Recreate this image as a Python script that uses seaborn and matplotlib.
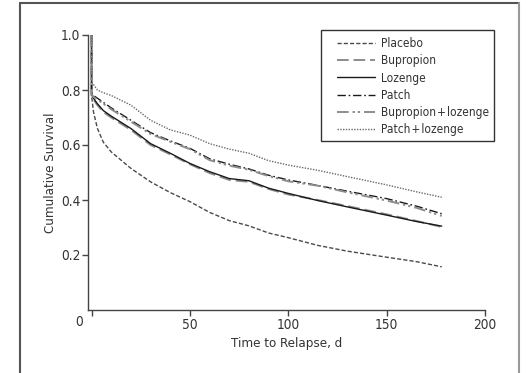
import matplotlib
matplotlib.use("Agg")
import matplotlib.pyplot as plt
from matplotlib import font_manager
from matplotlib.lines import Line2D
from matplotlib.patches import Rectangle
import seaborn as sns
import pandas as pd

# ---- data ----
DAYS = [0, 0, 1, 3, 6, 10, 20, 30, 40, 50, 60, 70, 80, 90, 100, 115, 130, 150, 165, 178]
placebo = [1.0, 0.78, 0.72, 0.66, 0.61, 0.575, 0.515, 0.466, 0.427, 0.394, 0.355, 0.325, 0.306, 0.280, 0.263, 0.235, 0.214, 0.192, 0.176, 0.157]
bupropion = [1.0, 0.775, 0.765, 0.745, 0.72, 0.70, 0.655, 0.600, 0.566, 0.530, 0.498, 0.473, 0.466, 0.440, 0.420, 0.400, 0.378, 0.348, 0.324, 0.302]
lozenge = [1.0, 0.785, 0.77, 0.75, 0.725, 0.705, 0.66, 0.605, 0.570, 0.533, 0.503, 0.478, 0.470, 0.443, 0.424, 0.398, 0.375, 0.345, 0.322, 0.305]
patch = [1.0, 0.79, 0.78, 0.77, 0.755, 0.735, 0.69, 0.645, 0.615, 0.588, 0.550, 0.530, 0.513, 0.490, 0.473, 0.453, 0.432, 0.405, 0.378, 0.350]
bup_loz = [1.0, 0.785, 0.775, 0.765, 0.75, 0.73, 0.685, 0.64, 0.612, 0.585, 0.545, 0.525, 0.510, 0.487, 0.468, 0.452, 0.428, 0.398, 0.372, 0.342]
patch_loz = [1.0, 0.83, 0.82, 0.80, 0.79, 0.78, 0.745, 0.69, 0.655, 0.636, 0.605, 0.585, 0.570, 0.543, 0.527, 0.508, 0.485, 0.455, 0.430, 0.410]

GROUPS = ["Placebo", "Bupropion", "Lozenge", "Patch", "Bupropion+lozenge", "Patch+lozenge"]
LABELS = ["Placebo", "Bupropion", "Lozenge", "Patch", "Bupropion\u200a+\u200alozenge", "Patch\u200a+\u200alozenge"]
SERIES = [placebo, bupropion, lozenge, patch, bup_loz, patch_loz]
X_TICKS = [0, 50, 100, 150, 200]
Y_TICKS = [0.2, 0.4, 0.6, 0.8, 1.0]

sns.set_theme(style="white")
fonts = font_manager.fontManager.ttflist
names = {f.name for f in fonts}
condensed = any(f.name == "DejaVu Sans" and str(f.stretch) in ("condensed", "semi-condensed", "500", "600") for f in fonts)
if "Liberation Sans Narrow" in names:
    fam = "Liberation Sans Narrow"
elif condensed:
    fam = "DejaVu Sans"
    plt.rcParams["font.stretch"] = "condensed"
else:
    fam = "Liberation Sans"
plt.rcParams["font.family"] = [fam, "DejaVu Sans"]

rows = []
for g, vals in zip(GROUPS, SERIES):
    for i, (d, v) in enumerate(zip(DAYS, vals)):
        rows.append({"group": g, "day": d, "surv": v, "order": i})
df = pd.DataFrame(rows)

colors = {"Placebo": "#4a4a4a", "Bupropion": "#8c8c8c", "Lozenge": "#1a1a1a",
          "Patch": "#1a1a1a", "Bupropion+lozenge": "#8c8c8c", "Patch+lozenge": "#6a6a6a"}
dashes = {"Placebo": (3, 1.5), "Bupropion": (6, 2.5), "Lozenge": "",
          "Patch": (6, 2, 1.2, 2), "Bupropion+lozenge": (6, 2, 1.2, 1.5, 1.2, 2),
          "Patch+lozenge": (1, 1)}
widths = {"Placebo": 1.0, "Bupropion": 1.4, "Lozenge": 1.0, "Patch": 1.0,
          "Bupropion+lozenge": 1.4, "Patch+lozenge": 1.0}

W, H = 526, 373
fig = plt.figure(figsize=(W / 100, H / 100), dpi=100)
ax = fig.add_axes([88 / W, 1 - 310 / H, (485 - 88) / W, (310 - 35) / H])

for g, lab in zip(GROUPS, LABELS):
    sub = df[df.group == g]
    sns.lineplot(data=sub, x="day", y="surv", ax=ax, sort=False, estimator=None,
                 color=colors[g], linewidth=widths[g], label=lab)
    ln = ax.lines[-1]
    if dashes[g]:
        ln.set_dashes(dashes[g])

TXT = "#333333"
ax.set_xlim(-1.8, 200)
ax.set_ylim(0, 1.0)
ax.set_xticks(X_TICKS)
ax.set_xticklabels([""] + [str(t) for t in X_TICKS[1:]])
ax.set_yticks(Y_TICKS)
ax.set_yticklabels([f"{t:.1f}" for t in Y_TICKS])
ax.tick_params(axis="both", direction="out", length=4, width=1, color="#444444",
               labelsize=9.8, labelcolor=TXT, left=True, bottom=True)
ax.tick_params(axis="x", pad=2)
ax.tick_params(axis="y", pad=1.5)
for s in ["top", "right"]:
    ax.spines[s].set_visible(False)
for s in ["left", "bottom"]:
    ax.spines[s].set_color("#444444")
    ax.spines[s].set_linewidth(1.0)
ax.set_xlabel("Time to Relapse, d", fontsize=9.5, color=TXT, labelpad=3)
ax.set_ylabel("Cumulative Survival", fontsize=9.5, color=TXT, labelpad=3)
fig.text(79 / W, 1 - 322 / H, "0", fontsize=9.8, color=TXT, ha="center", va="center")

# legend: frame drawn separately to match the reference box
box = Rectangle((321 / W, 1 - 141 / H), (494 - 321) / W, (141 - 30) / H,
                transform=fig.transFigure, fill=True, facecolor="white",
                edgecolor="#333333", linewidth=1.0, zorder=4.5, clip_on=False)
ax.add_artist(box)
leg = ax.legend(loc="upper left", bbox_to_anchor=(337 / W, 1 - 37 / H),
                bbox_transform=fig.transFigure, frameon=False, fontsize=8.6,
                handlelength=3.2, handletextpad=0.45, labelspacing=0.36,
                borderpad=0, borderaxespad=0)
leg.set_zorder(6)
for t in leg.get_texts():
    t.set_color(TXT)

# outer page frame
fig.add_artist(Line2D([20 / W, 20 / W], [0, 1 - 3 / H], color="#555555", lw=1.5, transform=fig.transFigure))
fig.add_artist(Line2D([20 / W, 519 / W], [1 - 3 / H, 1 - 3 / H], color="#555555", lw=1.5, transform=fig.transFigure))
fig.add_artist(Line2D([519 / W, 519 / W], [0, 1 - 3 / H], color="#999999", lw=1.5, transform=fig.transFigure))

fig.savefig("out.png", dpi=100)
